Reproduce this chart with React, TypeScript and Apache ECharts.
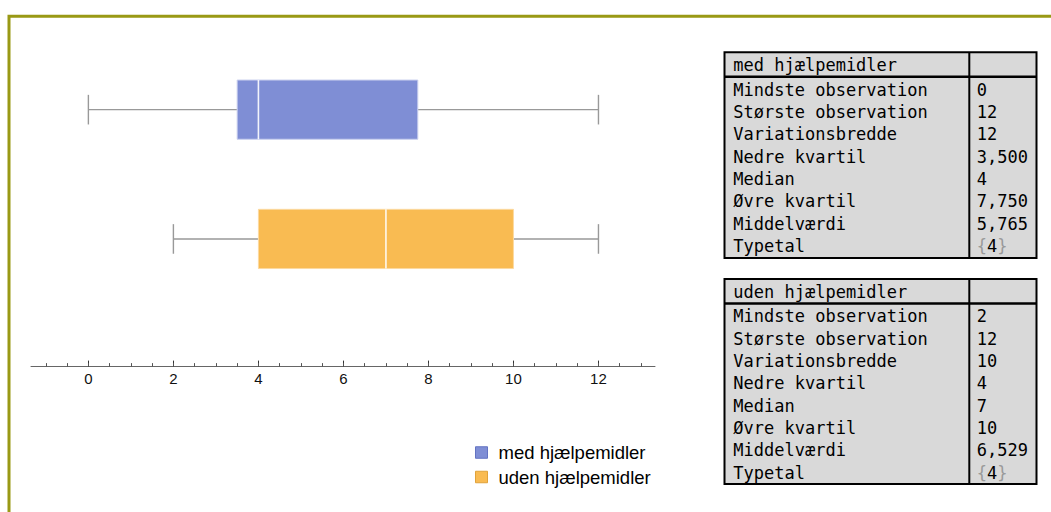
import React, { useEffect, useRef } from "react";
import * as echarts from "echarts";

// ---- data ----
const groups = ["med hjælpemidler", "uden hjælpemidler"];
// [min, Q1, median, Q3, max]
const medStats = [0, 3.5, 4, 7.75, 12];
const udenStats = [2, 4, 7, 10, 12];
const groupColors = ["#7f8ed5", "#f9bb52"];
const groupEdges = ["#c9cfee", "#fcd9a0"];
const legendBorders = ["#6373c2", "#e0a23a"];

const majorTicks = [0, 2, 4, 6, 8, 10, 12];
const minorTicks = [-1, -0.5, 0, 0.5, 1, 1.5, 2, 2.5, 3, 3.5, 4, 4.5, 5, 5.5, 6, 6.5, 7, 7.5, 8, 8.5, 9, 9.5, 10, 10.5, 11, 11.5, 12, 12.5, 13];

const tableLabels = [
  "Mindste observation",
  "Største observation",
  "Variationsbredde",
  "Nedre kvartil",
  "Median",
  "Øvre kvartil",
  "Middelværdi",
  "Typetal",
];
const medTableValues = ["0", "12", "12", "3,500", "4", "7,750", "5,765", "{4}"];
const udenTableValues = ["2", "12", "10", "4", "7", "10", "6,529", "{4}"];

const MONO = "'DejaVu Sans Mono', 'Liberation Mono', monospace";
const SANS = "'Liberation Sans', Arial, sans-serif";
const CHAR_W = 10.23;

function makeRenderItem(fill: string, edge: string) {
  return (params: any, api: any) => {
    const cat = api.value(0);
    const [mn, q1, md, q3, mx] = [1, 2, 3, 4, 5].map((i) => api.value(i));
    const band = api.size([0, 1])[1];
    const bh = band * 0.458;
    const half = bh / 2;
    const cap = half / 2;
    const pMn = api.coord([mn, cat]);
    const pQ1 = api.coord([q1, cat]);
    const pMd = api.coord([md, cat]);
    const pQ3 = api.coord([q3, cat]);
    const pMx = api.coord([mx, cat]);
    const y = pMn[1];
    const whisk = { stroke: "#999999", lineWidth: 1.4 };
    return {
      type: "group",
      children: [
        { type: "line", shape: { x1: pMn[0], y1: y, x2: pQ1[0], y2: y }, style: whisk },
        { type: "line", shape: { x1: pQ3[0], y1: y, x2: pMx[0], y2: y }, style: whisk },
        { type: "line", shape: { x1: pMn[0], y1: y - cap, x2: pMn[0], y2: y + cap }, style: whisk },
        { type: "line", shape: { x1: pMx[0], y1: y - cap, x2: pMx[0], y2: y + cap }, style: whisk },
        {
          type: "rect",
          shape: { x: pQ1[0], y: y - half, width: pQ3[0] - pQ1[0], height: bh },
          style: { fill, stroke: edge, lineWidth: 1 },
        },
        {
          type: "line",
          shape: { x1: pMd[0], y1: y - half, x2: pMd[0], y2: y + half },
          style: { stroke: "rgba(255,255,255,0.9)", lineWidth: 1.6 },
        },
      ],
    };
  };
}

function monoText(text: string, x: number, y: number, fill = "#000") {
  return {
    type: "text",
    x,
    y,
    style: { text, font: `17px ${MONO}`, fill, verticalAlign: "middle", align: "left" },
  };
}

function buildTable(title: string, values: string[], top: number, bottom: number) {
  const left = 724.5;
  const right = 1036.5;
  const divX = 969.3;
  const headerBottom = top + 24.4;
  const firstRow = top + 37.2;
  const rowStep = 22.38;
  const children: any[] = [
    {
      type: "rect",
      shape: { x: left, y: top, width: right - left, height: bottom - top },
      style: { fill: "#d9d9d9", stroke: "#000", lineWidth: 2 },
    },
    { type: "line", shape: { x1: left, y1: headerBottom, x2: right, y2: headerBottom }, style: { stroke: "#000", lineWidth: 2.5 } },
    { type: "line", shape: { x1: divX, y1: top, x2: divX, y2: bottom }, style: { stroke: "#000", lineWidth: 2 } },
    monoText(title, 733.3, top + 12.7),
  ];
  tableLabels.forEach((lab, i) => {
    const yy = firstRow + i * rowStep;
    children.push(monoText(lab, 733.3, yy));
    const v = values[i];
    const isSet = v.startsWith("{") && v.endsWith("}");
    if (isSet) {
      const inner = v.slice(1, -1);
      children.push(monoText("{", 976.7, yy, "#9a9a9a"));
      children.push(monoText(inner, 976.7 + CHAR_W, yy));
      children.push(monoText("}", 976.7 + CHAR_W * (1 + inner.length), yy, "#9a9a9a"));
    } else {
      children.push(monoText(v, 976.7, yy));
    }
  });
  return { type: "group", children };
}

export default function App() {
  const ref = useRef<HTMLDivElement>(null);
  useEffect(() => {
    if (!ref.current) return;
    const chart = echarts.init(ref.current, null, { renderer: "svg" });
    const statsList = [medStats, udenStats];
    const option: any = {
      animation: false,
      backgroundColor: "#ffffff",
      textStyle: { fontFamily: SANS },
      grid: { left: 31, right: 396, top: 45, height: 258.6, containLabel: false },
      xAxis: [
        {
          type: "value",
          min: -1.35,
          max: 13.33,
          position: "bottom",
          offset: 63,
          splitLine: { show: false },
          axisLine: { show: true, onZero: false, lineStyle: { color: "#666666", width: 1 } },
          axisTick: { show: true, inside: true, length: 6, customValues: majorTicks, lineStyle: { color: "#333333", width: 1 } },
          axisLabel: {
            show: true,
            customValues: majorTicks,
            margin: 4,
            formatter: (v: number) => `{t|${v}}`,
            rich: { t: { fontSize: 15, fontFamily: SANS, color: "#111111" } },
          },
        },
        {
          type: "value",
          min: -1.35,
          max: 13.33,
          position: "bottom",
          offset: 63,
          splitLine: { show: false },
          axisLine: { show: false, onZero: false },
          axisTick: { show: true, inside: true, length: 3.5, customValues: minorTicks, lineStyle: { color: "#555555", width: 1 } },
          axisLabel: { show: false },
        },
      ],
      yAxis: { type: "category", data: groups, inverse: true, show: false },
      legend: {
        orient: "vertical",
        left: 475,
        top: 443,
        padding: 0,
        itemWidth: 12,
        itemHeight: 11.5,
        itemGap: 5.5,
        icon: "rect",
        textStyle: { fontFamily: SANS, fontSize: 18.5, color: "#000", padding: [0, 0, 0, 6] },
        data: groups.map((g, i) => ({
          name: g,
          itemStyle: { color: groupColors[i], borderColor: legendBorders[i], borderWidth: 1 },
        })),
      },
      series: groups.map((g, i) => ({
        name: g,
        type: "custom",
        xAxisIndex: 0,
        yAxisIndex: 0,
        itemStyle: { color: groupColors[i] },
        encode: { x: [1, 2, 3, 4, 5], y: 0 },
        renderItem: makeRenderItem(groupColors[i], groupEdges[i]),
        data: [[i, ...statsList[i]]],
      })),
      graphic: [
        {
          type: "rect",
          silent: true,
          shape: { x: 9, y: 16.2, width: 3000, height: 3000 },
          style: { fill: "none", stroke: "#999915", lineWidth: 3 },
        },
        buildTable(groups[0], medTableValues, 52.3, 258),
        buildTable(groups[1], udenTableValues, 279, 484),
      ],
    };
    chart.setOption(option);
    return () => chart.dispose();
  }, []);
  return (
    <div
      ref={ref}
      style={{ position: "absolute", left: 0, top: 0, width: 1051, height: 512 }}
    />
  );
}
